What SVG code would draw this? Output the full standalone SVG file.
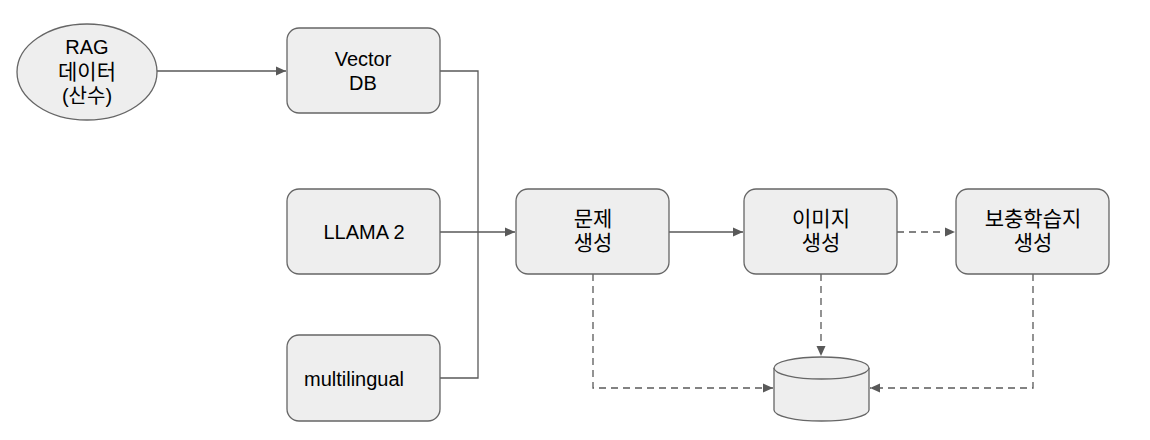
<svg xmlns="http://www.w3.org/2000/svg" width="1150" height="440" viewBox="0 0 1150 440">
<style>
.n{fill:#eeeeee;stroke:#666666;stroke-width:1.3}
.t{font-family:"Liberation Sans","Noto Sans CJK KR",sans-serif;font-size:20px;fill:#000;text-anchor:middle;dominant-baseline:central}
.k{font-size:21px}
.c{fill:none;stroke:#595959;stroke-width:1.3}
.d{stroke-dasharray:7,5}
</style>
<defs>
<marker id="a" viewBox="0 0 10 10" refX="10" refY="5" markerWidth="10" markerHeight="10" markerUnits="userSpaceOnUse" orient="auto"><path d="M0,0.5 L10,5 L0,9.5z" fill="#595959"/></marker>
</defs>
<rect width="1150" height="440" fill="#fff"/>
<g id="connectors">
<path class="c" d="M157,71 H286" marker-end="url(#a)"/>
<path class="c" d="M440,71 H478 V378 H440"/>
<path class="c" d="M440,232 H515" marker-end="url(#a)"/>
<path class="c" d="M669,232 H743" marker-end="url(#a)"/>
<path class="c d" d="M897,232 H955" marker-end="url(#a)"/>
<path class="c d" d="M593,274 V388 H773" marker-end="url(#a)"/>
<path class="c d" d="M821,274 V356" marker-end="url(#a)"/>
<path class="c d" d="M1033,274 V388 H870" marker-end="url(#a)"/>
</g>
<g id="rag">
<ellipse class="n" cx="87" cy="72" rx="70" ry="48"/>
<text class="t" x="87" y="47">RAG</text>
<text class="t k" x="87" y="71">데이터</text>
<text class="t" x="87" y="96">(산수)</text>
</g>
<g id="vectordb">
<rect class="n" x="287" y="28" width="153" height="85" rx="12"/>
<text class="t" x="363" y="59">Vector</text>
<text class="t" x="363" y="83">DB</text>
</g>
<g id="llama">
<rect class="n" x="287" y="189" width="153" height="85" rx="12"/>
<text class="t" x="364" y="232">LLAMA 2</text>
</g>
<g id="multilingual">
<rect class="n" x="287" y="335" width="153" height="86" rx="12"/>
<text class="t" x="304" y="379" style="text-anchor:start">multilingual</text>
</g>
<g id="problem">
<rect class="n" x="516" y="189" width="153" height="85" rx="12"/>
<text class="t k" x="593" y="218">문제</text>
<text class="t k" x="593" y="242">생성</text>
</g>
<g id="image">
<rect class="n" x="744" y="189" width="153" height="85" rx="12"/>
<text class="t k" x="821" y="218">이미지</text>
<text class="t k" x="821" y="242">생성</text>
</g>
<g id="supplement">
<rect class="n" x="956" y="189" width="153" height="85" rx="12"/>
<text class="t k" x="1033" y="218">보충학습지</text>
<text class="t k" x="1033" y="242">생성</text>
</g>
<g id="db">
<path class="n" d="M774,368 V410 A47.5,11 0 0 0 869,410 V368"/>
<ellipse class="n" cx="821.5" cy="368" rx="47.5" ry="11"/>
</g>
</svg>
